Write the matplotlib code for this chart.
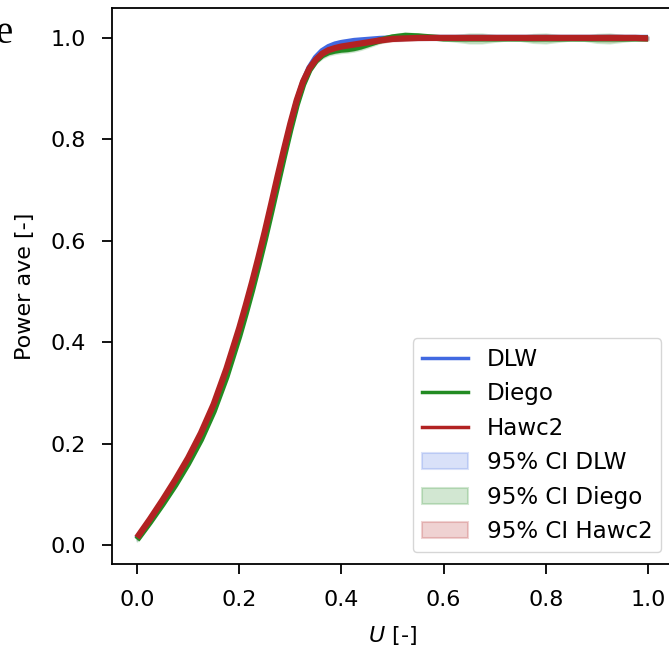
import matplotlib
matplotlib.use("Agg")
import matplotlib.pyplot as plt
import numpy as np

# ── Data ─────────────────────────────────────────────────────────
# finer spacing through the steep part and the knee of the curve
U = [0.000, 0.025, 0.050, 0.075, 0.100, 0.125, 0.150, 0.175, 0.200,
     0.2125, 0.225, 0.2375, 0.250, 0.2625, 0.275, 0.2875, 0.300, 0.3125, 0.325,
     0.3375, 0.350, 0.3625, 0.375, 0.3875, 0.400, 0.4125, 0.425, 0.4375, 0.450,
     0.475, 0.500, 0.525, 0.550, 0.575, 0.600, 0.625, 0.650, 0.675, 0.700,
     0.725, 0.750, 0.775, 0.800, 0.825, 0.850, 0.875, 0.900, 0.925, 0.950,
     0.975, 1.000]

power_dlw = [0.013, 0.048, 0.085, 0.124, 0.166, 0.214, 0.271, 0.340, 0.420,
             0.464, 0.510, 0.559, 0.610, 0.664, 0.719, 0.773, 0.825, 0.873, 0.912,
             0.941, 0.961, 0.974, 0.982, 0.987, 0.990, 0.992, 0.994, 0.995, 0.996,
             0.998, 0.999, 1.000, 1.000, 1.000, 1.000, 1.000, 1.000, 1.000, 1.000,
             1.000, 1.000, 1.000, 1.000, 1.000, 1.000, 1.000, 1.000, 1.000, 1.000,
             1.000, 1.000]
ci_dlw = [0.003, 0.003, 0.003, 0.003, 0.003, 0.003, 0.003, 0.003, 0.003,
          0.003, 0.003, 0.003, 0.003, 0.003, 0.003, 0.003, 0.003, 0.004, 0.004,
          0.005, 0.005, 0.005, 0.005, 0.005, 0.005, 0.004, 0.004, 0.004, 0.003,
          0.003, 0.003, 0.003, 0.003, 0.003, 0.003, 0.003, 0.003, 0.003, 0.003,
          0.003, 0.003, 0.003, 0.003, 0.003, 0.003, 0.003, 0.003, 0.003, 0.003,
          0.003, 0.003]

power_diego = [0.011, 0.045, 0.081, 0.119, 0.161, 0.208, 0.264, 0.332, 0.412,
               0.456, 0.502, 0.551, 0.602, 0.656, 0.711, 0.766, 0.819, 0.868, 0.908,
               0.937, 0.955, 0.966, 0.972, 0.975, 0.977, 0.978, 0.980, 0.983, 0.987,
               0.995, 1.001, 1.004, 1.003, 1.001, 0.999, 0.999, 0.999, 0.999, 0.999,
               0.999, 0.999, 0.999, 0.999, 0.999, 0.999, 0.999, 0.999, 0.999, 0.999,
               0.999, 0.999]
ci_diego = [0.003, 0.003, 0.003, 0.003, 0.003, 0.003, 0.003, 0.003, 0.003,
            0.003, 0.003, 0.003, 0.003, 0.003, 0.003, 0.003, 0.003, 0.004, 0.004,
            0.005, 0.005, 0.006, 0.006, 0.006, 0.006, 0.006, 0.006, 0.006, 0.006,
            0.005, 0.005, 0.006, 0.005, 0.003, 0.003, 0.006, 0.009, 0.009, 0.006,
            0.003, 0.004, 0.008, 0.009, 0.006, 0.003, 0.004, 0.008, 0.009, 0.006,
            0.003, 0.003]

power_hawc2 = [0.015, 0.051, 0.089, 0.129, 0.172, 0.221, 0.278, 0.348, 0.428,
               0.472, 0.518, 0.567, 0.618, 0.672, 0.727, 0.780, 0.831, 0.877, 0.914,
               0.940, 0.957, 0.969, 0.976, 0.980, 0.983, 0.985, 0.987, 0.989, 0.991,
               0.995, 0.998, 0.999, 1.000, 1.000, 1.000, 1.000, 1.000, 1.000, 1.000,
               1.000, 1.000, 1.000, 1.000, 1.000, 1.000, 1.000, 1.000, 1.000, 1.000,
               1.000, 0.999]
ci_hawc2 = [0.003, 0.003, 0.003, 0.003, 0.003, 0.003, 0.003, 0.003, 0.003,
            0.003, 0.003, 0.003, 0.003, 0.003, 0.003, 0.003, 0.003, 0.003, 0.003,
            0.004, 0.004, 0.004, 0.004, 0.004, 0.004, 0.004, 0.004, 0.004, 0.004,
            0.004, 0.004, 0.004, 0.004, 0.003, 0.003, 0.004, 0.005, 0.005, 0.004,
            0.003, 0.003, 0.005, 0.005, 0.004, 0.003, 0.003, 0.005, 0.006, 0.005,
            0.003, 0.003]

SERIES = [
    ("DLW",   power_dlw,   ci_dlw,   "royalblue"),
    ("Diego", power_diego, ci_diego, "forestgreen"),
    ("Hawc2", power_hawc2, ci_hawc2, "firebrick"),
]

FS = 16
plt.rcParams["font.family"] = "DejaVu Sans"
plt.rcParams["font.size"] = FS

fig = plt.figure(figsize=(6.69, 6.49), dpi=100)
ax = fig.add_axes([0.1674, 0.131, 0.8386, 0.8567])

u = np.array(U)
line_handles, band_handles = [], []
for name, p, ci, col in SERIES:
    ln, = ax.plot(u, p, color=col, lw=4.5, label=name, solid_capstyle="butt")
    line_handles.append(ln)
for name, p, ci, col in SERIES:
    p, ci = np.array(p), np.array(ci)
    band = ax.fill_between(u, p - ci, p + ci, color=col, alpha=0.2, lw=1.5,
                           label=f"95% CI {name}")
    band_handles.append(band)

# legend lines are thinner than the plotted ones
leg_lines = [plt.Line2D([], [], color=h.get_color(), lw=2.5) for h in line_handles]
ax.legend(leg_lines + band_handles,
          [h.get_label() for h in line_handles] + [b.get_label() for b in band_handles],
          loc="lower right", fontsize=16.6, labelspacing=0.5)

ax.set_xlim(-0.049, 1.049)
ax.set_ylim(-0.037, 1.059)
ax.set_xticks([0.0, 0.2, 0.4, 0.6, 0.8, 1.0])
ax.set_yticks([0.0, 0.2, 0.4, 0.6, 0.8, 1.0])
ax.tick_params(labelsize=FS, width=1.3, length=7.5, pad=11)
for s in ax.spines.values():
    s.set_linewidth(1.3)
ax.set_xlabel("$U$ [-]", fontsize=FS, labelpad=10)
ax.set_ylabel("Power ave [-]", fontsize=FS, labelpad=11.5)

# panel letter, cut by the left edge
fig.text(13 / 669, 1 - 43 / 649, "e", family="Liberation Serif", fontsize=28,
         ha="right", va="baseline")

fig.savefig("out.png", dpi=100)
